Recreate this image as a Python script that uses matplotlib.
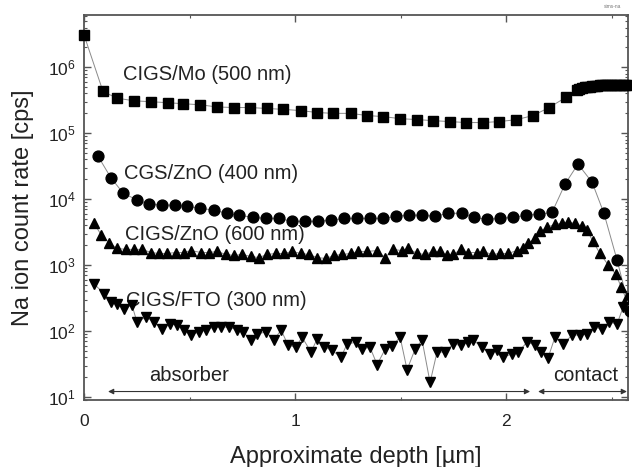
import matplotlib
matplotlib.use("Agg")
import matplotlib.pyplot as plt
from matplotlib.ticker import LogLocator, FixedLocator, FixedFormatter, MultipleLocator, NullFormatter

plt.rcParams['font.family'] = ['Liberation Sans', 'DejaVu Sans']
plt.rcParams['mathtext.fontset'] = 'custom'
plt.rcParams['mathtext.rm'] = 'Liberation Sans'
plt.rcParams['mathtext.it'] = 'Liberation Sans:italic'
plt.rcParams['mathtext.default'] = 'regular'

# ---------------- data ----------------
mo_depth = [0.0, 0.09, 0.156, 0.237, 0.318, 0.398, 0.469, 0.55, 0.63, 0.711, 0.787, 0.867,
            0.943, 1.028, 1.104, 1.18, 1.265, 1.341, 1.417, 1.498, 1.578, 1.654, 1.735, 1.81,
            1.891, 1.967, 2.047, 2.128, 2.204, 2.284, 2.336,
            2.348, 2.36, 2.372, 2.384, 2.396, 2.408, 2.42, 2.432, 2.444, 2.456,
            2.468, 2.48, 2.492, 2.504, 2.516, 2.528, 2.54, 2.552, 2.564, 2.576]
mo_rate = [3.1e6, 4.3e5, 3.4e5, 3.1e5, 3.0e5, 2.9e5, 2.8e5, 2.7e5, 2.5e5, 2.45e5, 2.45e5, 2.37e5,
           2.3e5, 2.2e5, 2.06e5, 2.0e5, 2.0e5, 1.85e5, 1.79e5, 1.66e5, 1.61e5, 1.55e5, 1.5e5, 1.45e5,
           1.45e5, 1.5e5, 1.6e5, 1.85e5, 2.45e5, 3.5e5, 4.5e5,
           4.7e5, 4.85e5, 4.95e5, 5.05e5, 5.1e5, 5.15e5, 5.2e5, 5.25e5, 5.3e5, 5.3e5,
           5.35e5, 5.35e5, 5.4e5, 5.4e5, 5.4e5, 5.4e5, 5.4e5, 5.4e5, 5.35e5, 5.35e5]

cgs_depth = [0.066, 0.128, 0.185, 0.251, 0.308, 0.370, 0.431, 0.488, 0.550, 0.616, 0.678, 0.735,
             0.801, 0.863, 0.924, 0.986, 1.047, 1.109, 1.171, 1.232, 1.294, 1.355, 1.417, 1.479,
             1.540, 1.602, 1.664, 1.725, 1.791, 1.848, 1.910, 1.972, 2.033, 2.095, 2.156, 2.218,
             2.280, 2.341, 2.408, 2.464, 2.526, 2.588]
cgs_rate = [4.5e4, 2.1e4, 1.24e4, 9.7e3, 8.4e3, 8.1e3, 8.1e3, 7.8e3, 7.3e3, 6.8e3, 6.1e3, 5.7e3,
            5.3e3, 5.1e3, 5.1e3, 4.6e3, 4.6e3, 4.6e3, 4.8e3, 5.1e3, 5.1e3, 5.1e3, 5.1e3, 5.5e3,
            5.7e3, 5.7e3, 5.5e3, 6.1e3, 6.1e3, 5.3e3, 4.95e3, 5.1e3, 5.3e3, 5.7e3, 5.9e3, 6.3e3,
            1.7e4, 3.4e4, 1.8e4, 6.1e3, 1.2e3, 2.0e2]

zno_depth = [0.047, 0.081, 0.118, 0.156, 0.199, 0.237, 0.275, 0.318, 0.355, 0.393, 0.436, 0.474,
             0.507, 0.555, 0.592, 0.630, 0.673, 0.711, 0.749, 0.791, 0.829, 0.867, 0.910, 0.948,
             0.986, 1.028, 1.066, 1.104, 1.147, 1.185, 1.223, 1.265, 1.299, 1.341, 1.389, 1.427,
             1.464, 1.507, 1.536, 1.578, 1.616, 1.654, 1.687, 1.720, 1.749, 1.787, 1.820, 1.863,
             1.891, 1.934, 1.972, 2.009, 2.052, 2.081, 2.104, 2.137, 2.161, 2.194, 2.232, 2.265,
             2.294, 2.327, 2.360, 2.384, 2.412, 2.445, 2.483, 2.521, 2.545, 2.569]
zno_rate = [4.3e3, 2.9e3, 2.2e3, 1.79e3, 1.73e3, 1.73e3, 1.73e3, 1.55e3, 1.5e3, 1.5e3, 1.55e3, 1.55e3,
            1.66e3, 1.55e3, 1.55e3, 1.61e3, 1.45e3, 1.4e3, 1.45e3, 1.35e3, 1.3e3, 1.45e3, 1.5e3, 1.5e3,
            1.61e3, 1.5e3, 1.45e3, 1.3e3, 1.26e3, 1.4e3, 1.45e3, 1.5e3, 1.61e3, 1.61e3, 1.66e3, 1.3e3,
            1.73e3, 1.66e3, 1.79e3, 1.5e3, 1.45e3, 1.61e3, 1.61e3, 1.4e3, 1.45e3, 1.73e3, 1.55e3, 1.55e3,
            1.61e3, 1.45e3, 1.5e3, 1.5e3, 1.66e3, 1.79e3, 2.13e3, 2.54e3, 3.24e3, 3.74e3, 4.15e3, 4.3e3,
            4.45e3, 4.3e3, 3.87e3, 3.37e3, 2.29e3, 1.5e3, 1.02e3, 7.2e2, 4.7e2, 3.1e2]

fto_depth = [0.047, 0.095, 0.128, 0.156, 0.190, 0.227, 0.251, 0.294, 0.332, 0.370, 0.408, 0.441,
             0.474, 0.507, 0.545, 0.578, 0.616, 0.649, 0.687, 0.725, 0.754, 0.791, 0.820, 0.863,
             0.900, 0.934, 0.967, 1.005, 1.033, 1.076, 1.104, 1.137, 1.175, 1.218, 1.246, 1.289,
             1.318, 1.355, 1.389, 1.427, 1.460, 1.498, 1.531, 1.569, 1.602, 1.640, 1.673, 1.711,
             1.749, 1.787, 1.820, 1.844, 1.886, 1.924, 1.957, 1.986, 2.028, 2.057, 2.100, 2.137,
             2.166, 2.199, 2.232, 2.270, 2.313, 2.351, 2.384, 2.417, 2.455, 2.488, 2.526, 2.555, 2.59]
fto_rate = [520, 370, 277, 258, 217, 249, 137, 164, 137, 107, 128, 124,
            104, 87, 97, 104, 115, 115, 115, 104, 97, 73, 90, 97,
            73, 104, 61, 57, 81, 48, 75, 57, 51, 40, 63, 68,
            53, 57, 31, 53, 59, 81, 26, 53, 73, 16.6, 48, 48,
            63, 61, 68, 73, 57, 45, 51, 40, 45, 48, 68, 61,
            48, 39, 81, 63, 87, 87, 90, 115, 107, 137, 128, 230, 320]

series_labels = ["CIGS/Mo (500 nm)", "CGS/ZnO (400 nm)", "CIGS/ZnO (600 nm)", "CIGS/FTO (300 nm)"]
label_pos = [(0.185, 7.8e5), (0.19, 2.41e4), (0.194, 2.92e3), (0.20, 287)]
ytick_vals = [1e1, 1e2, 1e3, 1e4, 1e5, 1e6]
ytick_labels = [r'$10^{1}$', r'$10^{2}$', r'$10^{3}$', r'$10^{4}$', r'$10^{5}$', r'$10^{6}$']
xtick_vals = [0, 1, 2]
xtick_labels = ['0', '1', '2']

# ---------------- figure ----------------
fig = plt.figure(figsize=(6.32, 4.67), dpi=100)
ax = fig.add_axes([84 / 632, 1 - 400 / 467, 544 / 632, 385 / 467])

tc = '#222222'
lc = '#8a8a8a'
ax.plot(mo_depth, mo_rate, color=lc, lw=0.7, marker='s', ms=6.7, mfc='black', mec='black',
        clip_on=False, zorder=3)
ax.plot(cgs_depth, cgs_rate, color=lc, lw=0.7, marker='o', ms=7.8, mfc='black', mec='black', zorder=3)
ax.plot(zno_depth, zno_rate, color=lc, lw=0.7, marker='^', ms=7.0, mfc='black', mec='black', zorder=3)
ax.plot(fto_depth, fto_rate, color=lc, lw=0.7, marker='v', ms=7.0, mfc='black', mec='black', zorder=3)

for txt, (x, y) in zip(series_labels, label_pos):
    ax.text(x, y, txt, fontsize=14.5, color=tc, va='center', ha='left', zorder=2)

ax.set_yscale('log')
ax.set_xlim(0, 2.578)
ax.set_ylim(9.0, 6.2e6)

ax.yaxis.set_major_locator(FixedLocator(ytick_vals))
ax.yaxis.set_major_formatter(FixedFormatter(ytick_labels))
ax.yaxis.set_minor_locator(LogLocator(base=10, subs=range(2, 10), numticks=20))
ax.yaxis.set_minor_formatter(NullFormatter())
ax.xaxis.set_major_locator(FixedLocator(xtick_vals))
ax.xaxis.set_major_formatter(FixedFormatter(xtick_labels))
ax.xaxis.set_minor_locator(MultipleLocator(0.5))

ax.tick_params(which='both', direction='in', top=True, right=True, colors='#555555', labelcolor=tc)
ax.tick_params(which='major', length=5, width=1.0, labelsize=12.5)
ax.tick_params(which='minor', length=2.5, width=0.8)
ax.tick_params(axis='x', which='major', pad=10)
ax.tick_params(axis='y', which='major', pad=6)
for s in ax.spines.values():
    s.set_color('#555555')
    s.set_linewidth(1.3)

ax.set_xlabel('Approximate depth [\u00b5m]', fontsize=17, color=tc, labelpad=12)
ax.set_ylabel('Na ion count rate [cps]', fontsize=17, color=tc, labelpad=10)

# region arrows
arrow_y = 12.1
ax.annotate('', xy=(0.114, arrow_y), xytext=(2.114, arrow_y),
            arrowprops=dict(arrowstyle='<|-|>', color='#333333', lw=0.8, mutation_scale=8,
                            shrinkA=0, shrinkB=0))
ax.annotate('', xy=(2.152, arrow_y), xytext=(2.573, arrow_y),
            arrowprops=dict(arrowstyle='<|-|>', color='#333333', lw=0.8, mutation_scale=8,
                            shrinkA=0, shrinkB=0))
ax.text(0.308, 21.3, 'absorber', fontsize=14.5, color=tc, va='center', ha='left')
ax.text(2.223, 21.3, 'contact', fontsize=14.5, color=tc, va='center', ha='left')

fig.text(0.955, 0.992, 'sims-na', fontsize=3.5, color='#777777', ha='left', va='top')

fig.savefig('out.png', dpi=100)
